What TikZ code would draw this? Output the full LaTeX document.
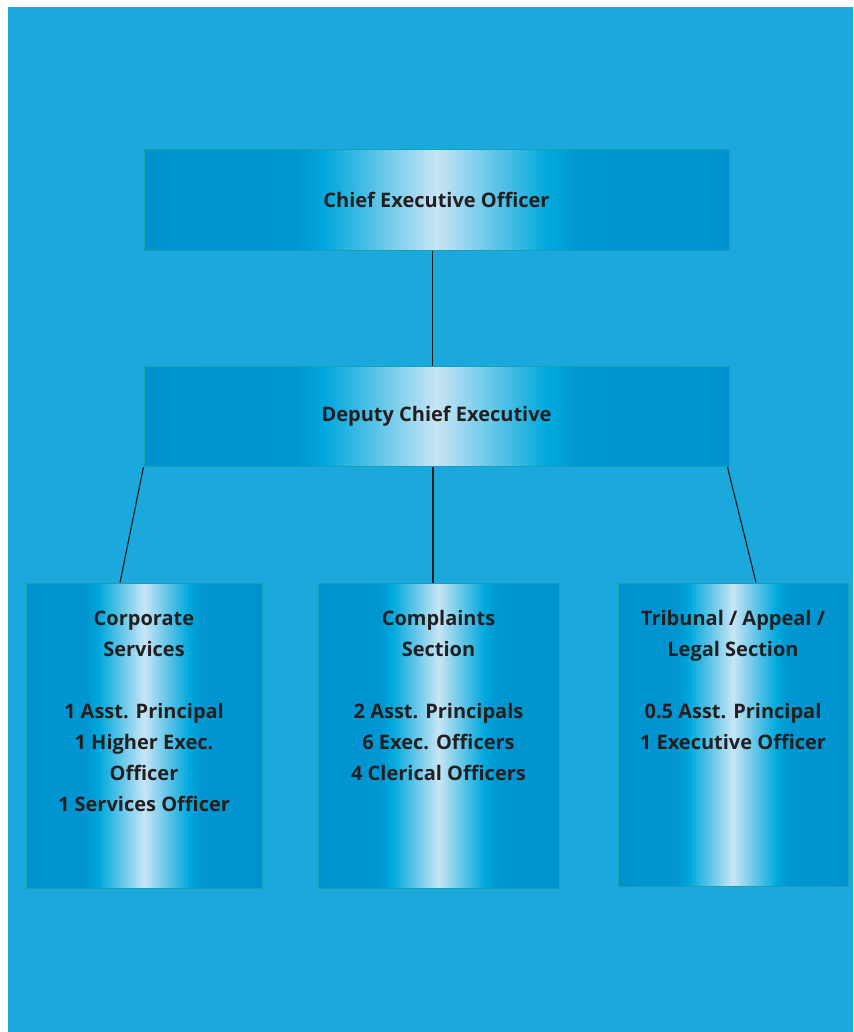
\documentclass[tikz,border=0pt]{standalone}
\usepackage{fontspec}
\setmainfont{Open Sans}
\usepackage{xcolor}
\usetikzlibrary{positioning, calc}

\definecolor{bgblue}{HTML}{1BA9DD}
\definecolor{boxdark}{HTML}{0092CF}
\definecolor{boxmid}{HTML}{00A8DC}
\definecolor{boxlight}{HTML}{C8E5F5}
\definecolor{boxedge}{HTML}{17A2B2}
\definecolor{inkgrey}{HTML}{231F20}

% box fills the middle 25bp..75bp of the shading
\pgfdeclarehorizontalshading{unitshade}{100bp}{
  color(0bp)=(boxdark); color(25bp)=(boxdark); color(38bp)=(boxdark!80!boxmid);
  color(40.5bp)=(boxmid); color(50bp)=(boxlight); color(59.5bp)=(boxmid);
  color(62bp)=(boxdark!80!boxmid); color(75bp)=(boxdark); color(100bp)=(boxdark)}

\tikzset{
  unitbox/.style={draw=boxedge, line width=1pt, shading=unitshade, inner sep=0pt},
  unitfont/.style={font=\bfseries\fontsize{20}{31}\selectfont, text=inkgrey},
  toptext/.style={unitfont, align=center, inner sep=0pt, anchor=north},
  link/.style={draw=inkgrey, line width=1.2pt}
}

\begin{document}
\begin{tikzpicture}[x=1pt, y=-1pt]
    % 1. page and blue background
    \useasboundingbox (0,0) rectangle (853,1032);
    \fill[bgblue] (8,7) rectangle (853,1032);

    % 2. top two levels
    \node[unitbox, unitfont, minimum width=585pt, minimum height=100pt]
        (ceo) at (436.5,200) {Chief Executive Officer};
    \node[unitbox, unitfont, minimum width=585pt, minimum height=100pt]
        (dep) at (436.5,416.5) {Deputy Chief Executive};

    % 3. the three sections
    \node[unitbox, minimum width=236pt, minimum height=305pt] (corp) at (144,735.5) {};
    \node[unitbox, minimum width=241pt, minimum height=305pt] (comp) at (438.5,735.5) {};
    \node[unitbox, minimum width=230pt, minimum height=303pt] (trib) at (733,734.5) {};

    \node[toptext, below=28pt of corp.north] (corptext)
        {Corporate\\Services\\[31pt]1 Asst. Principal\\1 Higher Exec.\\Officer\\1 Services Officer};
    \node[toptext, below=28pt of comp.north] (comptext)
        {Complaints\\Section\\[31pt]2 Asst. Principals\\6 Exec. Officers\\4 Clerical Officers};
    \node[toptext, below=28pt of trib.north] (tribtext)
        {Tribunal / Appeal /\\Legal Section\\[31pt]0.5 Asst. Principal\\1 Executive Officer};

    % 4. connectors
    \draw[link] ([xshift=-4pt]ceo.south) -- ([xshift=-4pt]dep.north);
    \draw[link] ([xshift=-3.5pt]dep.south) -- ([xshift=-5.5pt]comp.north);
    \draw[link] (dep.south west) -- ([xshift=-24pt]corp.north);
    \draw[link] ([xshift=-2pt]dep.south east) -- ([xshift=23pt]trib.north);
\end{tikzpicture}
\end{document}
